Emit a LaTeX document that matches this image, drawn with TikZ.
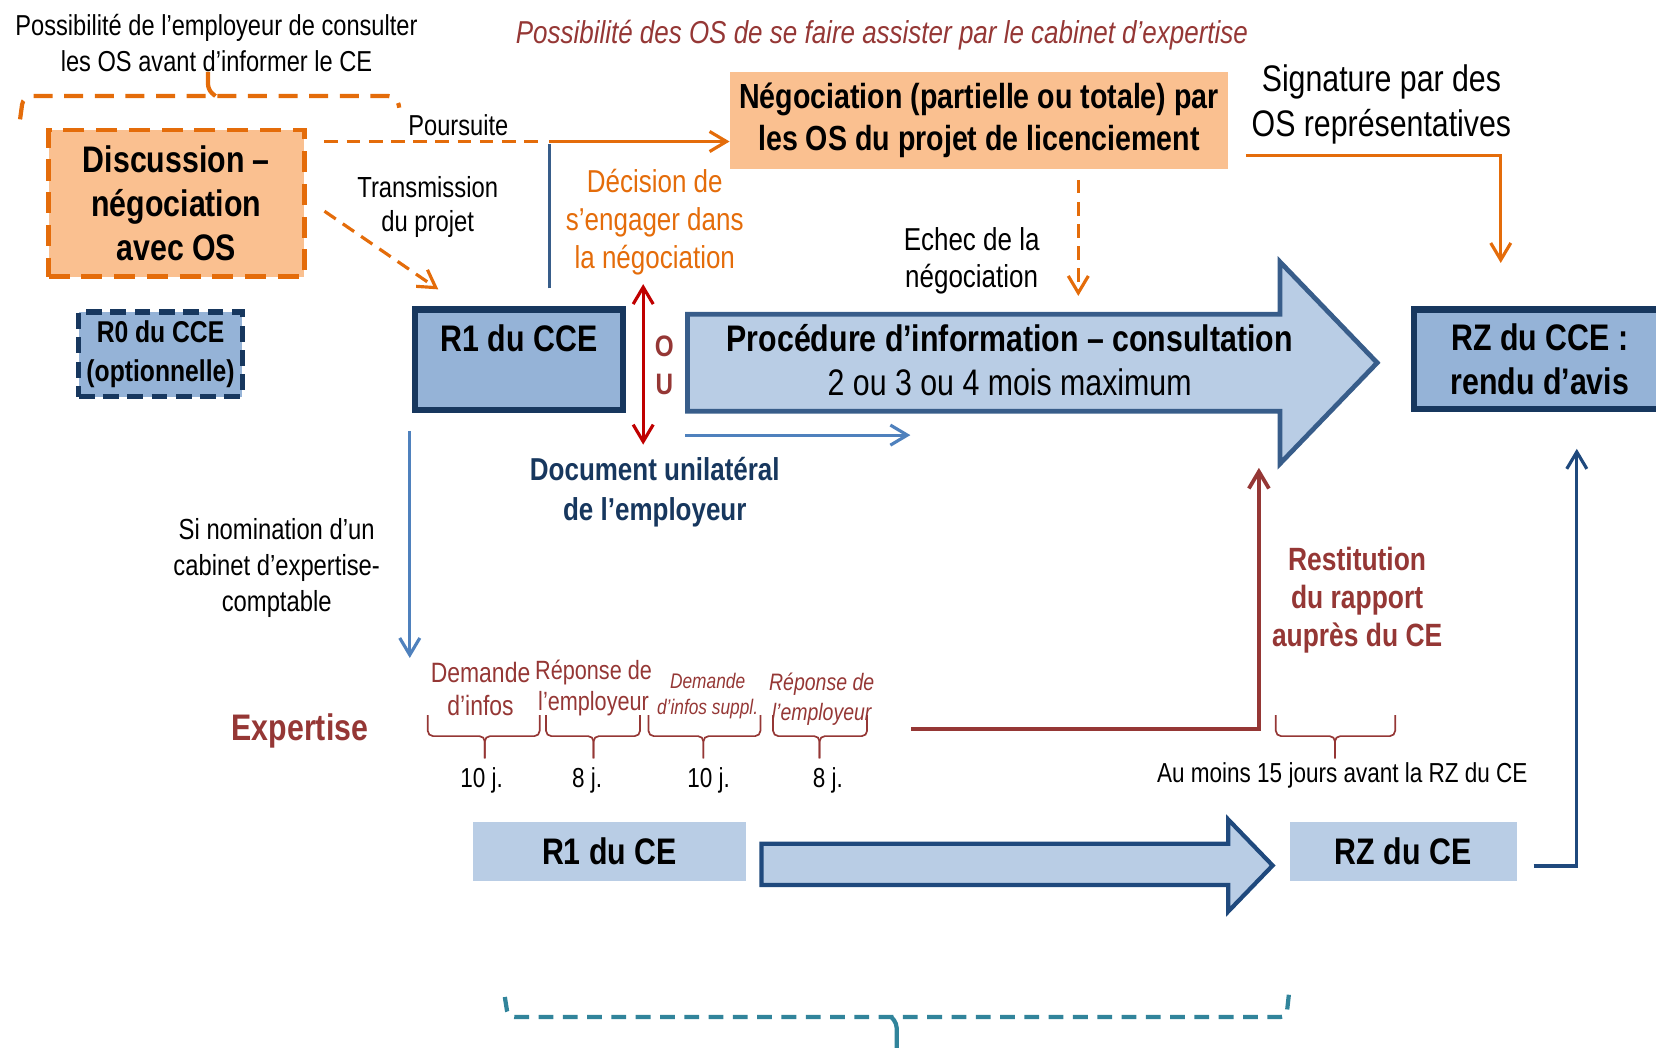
\documentclass[tikz,border=0pt]{standalone}
\usepackage{fontspec}
\setmainfont{Liberation Sans}[FakeStretch=0.82]
\usetikzlibrary{arrows.meta,calc}

\definecolor{ccOrange}{HTML}{E46C0A}
\definecolor{ccPeach}{HTML}{FAC090}
\definecolor{ccBoxBlue}{HTML}{95B3D7}
\definecolor{ccPale}{HTML}{B9CDE5}
\definecolor{ccNavy}{HTML}{17375E}
\definecolor{ccSteel}{HTML}{385D8A}
\definecolor{ccLink}{HTML}{4F81BD}
\definecolor{ccMaroon}{HTML}{953735}
\definecolor{ccRed}{HTML}{C00000}
\definecolor{ccTeal}{HTML}{31849B}
\definecolor{ccDeep}{HTML}{1F497D}

\newcommand\setfs[2]{\fontsize{#1pt}{#2pt}\selectfont}
% brace under a time span: left x, tip x, right x, y of the ends
\newcommand\spanbrace[4]{%
  \draw[brc] (#1,#4) -- (#1,#4+20) -- (#2,#4+20) -- (#2,#4+41);
  \draw[brc] (#3,#4) -- (#3,#4+20) -- (#2,#4+20) -- (#2,#4+41);}

\begin{document}
\begin{tikzpicture}[x=1pt,y=-1pt,
  txt/.style={inner sep=0pt, align=center, font=\setfs{27.3}{34}},
  bx/.style={inner sep=0pt, align=center, font=\bfseries\setfs{35}{42}},
  cceBox/.style={bx, draw=ccNavy, fill=ccBoxBlue, line width=6pt},
  ceBox/.style={bx, fill=ccPale},
  link/.style={line width=3pt},
  dashlink/.style={line width=3pt, dash pattern=on 13pt off 8pt},
  barb/.style={-{Straight Barb[length=16pt,width=19pt]}},
  brc/.style={ccMaroon, line width=1.6pt, rounded corners=5pt},
]
\clip (0,0) rectangle (1568,992);

% ---- top notes
\node[txt] (note) at (205,41) {Possibilité de l’employeur de consulter\\les OS avant d’informer le CE};
\node[txt, font=\itshape\setfs{30}{34}, text=ccMaroon] (assist) at (835,33)
  {Possibilité des OS de se faire assister par le cabinet d’expertise};

% orange bracket under the note
\draw[ccOrange, line width=4pt, dash pattern=on 18pt off 11pt, rounded corners=8pt]
  (19,113) -- (22,91) -- (376,91) -- (378,102);
\draw[ccOrange, line width=4pt, rounded corners=5pt] (204,91) -- (197,85) -- (197,68);

% ---- boxes
\node[draw=ccOrange, fill=ccPeach, line width=4.5pt, dash pattern=on 20pt off 11pt, bx,
  minimum width=242pt, minimum height=139pt] (disc) at (167,192.5) {Discussion –\\négociation\\avec OS};
\node[draw=ccNavy, fill=ccBoxBlue, line width=5pt, dash pattern=on 15pt off 8pt, bx,
  font=\bfseries\setfs{28.5}{37}, minimum width=155pt, minimum height=80pt] (r0) at (152,335.5)
  {R0 du CCE\\(optionnelle)};
\node[cceBox, minimum width=197pt, minimum height=95pt, text height=39.5pt, text depth=55.5pt]
  (r1cce) at (491.5,340.5) {R1 du CCE};
\node[cceBox, minimum width=238pt, minimum height=94pt] (rzcce) at (1458,340) {RZ du CCE :\\rendu d’avis};
\node[fill=ccPeach, bx, font=\bfseries\setfs{33}{39}, minimum width=472pt, minimum height=92pt]
  (nego) at (927,114) {Négociation (partielle ou totale) par\\les OS du projet de licenciement};

% information-consultation block arrow
\draw[fill=ccPale, draw=ccSteel, line width=4.5pt]
  (651,297.5) -- (1212,297.5) -- (1212,248) -- (1304,343.5) -- (1212,439) -- (1212,389.5) -- (651,389.5) -- cycle;
\node[bx] (proc) at (956,341) {Procédure d’information – consultation\\{\mdseries 2 ou 3 ou 4 mois maximum}};

% CE block arrow
\draw[fill=ccPale, draw=ccDeep, line width=4pt]
  (721,799) -- (1163,799) -- (1163,776) -- (1205,819.5) -- (1163,863) -- (1163,838) -- (721,838) -- cycle;
\node[ceBox, minimum width=258pt, minimum height=56pt] (r1ce) at (577,806) {R1 du CE};
\node[ceBox, minimum width=215pt, minimum height=56pt] (rzce) at (1328.5,806) {RZ du CE};

% ---- labels
\node[txt] (pours) at (434,119) {Poursuite};
\node[txt, font=\setfs{27.5}{33}] (transm) at (405,196) {Transmission\\du projet};
\node[txt, font=\setfs{30}{36}, text=ccOrange] (decis) at (620,210) {Décision de\\s’engager dans\\la négociation};
\node[txt, font=\setfs{30}{35}] (echec) at (920,247) {Echec de la\\négociation};
\node[txt, font=\setfs{35}{43}] (sign) at (1308,99) {Signature par des\\OS représentatives};
\node[txt, font=\bfseries\setfs{28}{36}, text=ccMaroon] (ou) at (629,346) {O\\U};
\node[txt, font=\bfseries\setfs{30}{37}, text=ccNavy] (docu) at (620,466) {Document unilatéral\\de l’employeur};
\node[txt, font=\setfs{27.5}{34}] (nomin) at (262,538) {Si nomination d’un\\cabinet d’expertise-\\comptable};
\node[txt, font=\bfseries\setfs{35}{42}, text=ccMaroon] (expert) at (284,692) {Expertise};
\node[txt, font=\bfseries\setfs{30.5}{36}, text=ccMaroon] (restit) at (1285,568) {Restitution\\du rapport\\auprès du CE};

% expertise time line
\node[txt, font=\setfs{26.5}{31}, text=ccMaroon] (dem1) at (455,652.5) {Demande\\d’infos};
\node[txt, font=\setfs{25}{29}, text=ccMaroon] (rep1) at (562,651.5) {Réponse de\\l’employeur};
\node[txt, font=\itshape\setfs{20}{24}, text=ccMaroon] (dem2) at (670,659) {Demande\\d’infos suppl.};
\node[txt, font=\itshape\setfs{22.5}{28}, text=ccMaroon] (rep2) at (778,662) {Réponse de\\l’employeur};
\spanbrace{405}{459}{511}{677}
\spanbrace{517}{562}{606}{677}
\spanbrace{614}{666}{720}{677}
\spanbrace{732}{776}{821}{677}
\spanbrace{1208}{1264}{1321}{677}
\node[txt, font=\setfs{26}{31}, anchor=base] (d1) at (456,746) {10 j.};
\node[txt, font=\setfs{26}{31}, anchor=base] (d2) at (556,746) {8 j.};
\node[txt, font=\setfs{26}{31}, anchor=base] (d3) at (671,746) {10 j.};
\node[txt, font=\setfs{26}{31}, anchor=base] (d4) at (784,746) {8 j.};
\node[txt, font=\setfs{26}{31}, anchor=base] (d15) at (1271,741) {Au moins 15 jours avant la RZ du CE};

% ---- connectors
\coordinate (junc) at (520,134);
\draw[ccOrange, dashlink] ($(disc.east |- junc)+(17,0)$) -- ($(junc)+(-5,0)$);
\draw[ccOrange, link, barb] (junc) -- (junc -| nego.west);
\draw[ccSteel, link] ($(junc |- r1cce.north)+(0,-17)$) -- ($(junc)+(0,2)$);
\draw[ccOrange, dashlink, barb] ($(disc.east)+(17,7.5)$) -- ($(r1cce.north west)+(25,-16)$);
\draw[ccRed, link, {Straight Barb[length=16pt,width=19pt]}-{Straight Barb[length=16pt,width=19pt]}]
  ($(r1cce.north east)+(16,-21)$) -- ($(r1cce.south east)+(16,30)$);
\coordinate (docStart) at (649,412);
\draw[ccLink, link, barb] (docStart) -- ++(213,0);
\draw[ccOrange, dashlink, barb] ($(nego.south)+(94,10)$) -- ($(nego.south)+(94,120)$);
\draw[ccOrange, link, barb] ($(nego.east)+(17,33)$) -| ($(rzcce.north)+(-37,-41)$);
\draw[ccLink, link, barb] ($(r1cce.south west)+(-2,17)$) -- ($(r1cce.south west)+(-2,232)$);
\coordinate (repEnd) at (863,690);
\draw[ccMaroon, line width=3.6pt, barb] (repEnd) -| (1192,443);
\draw[ccDeep, link, barb] ($(rzce.east)+(16,14)$) -| ($(rzcce.south)+(35,35)$);

% teal bracket at the foot
\draw[ccTeal, line width=4pt, dash pattern=on 14pt off 9pt, rounded corners=6pt]
  (478,944) -- (481,963) -- (1218,963) -- (1221,936);
\draw[ccTeal, line width=4pt, rounded corners=4pt] (844,963) -- (849,969) -- (849,1000);
\end{tikzpicture}
\end{document}
